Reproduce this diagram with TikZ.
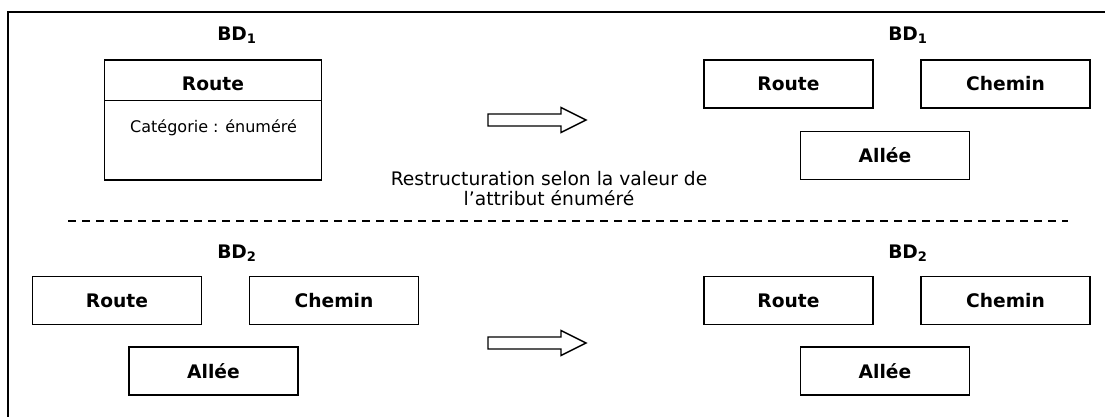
\documentclass[tikz,border=0pt]{standalone}
\usepackage{fontspec}
\setmainfont{DejaVu Sans}
\usetikzlibrary{positioning}

\begin{document}
\begin{tikzpicture}[x=0.75pt,y=-0.75pt,font=\fontsize{14}{15}\selectfont]
  \tikzstyle{boite}=[draw,line width=1.1pt,outer sep=0pt,inner sep=0pt,minimum width=126.75pt,minimum height=36pt,font=\fontsize{14}{15}\selectfont\bfseries]
  \tikzstyle{titre}=[font=\fontsize{14}{15}\selectfont\bfseries]
  \tikzstyle{fleche}=[draw,line width=1.1pt,line join=miter]

  \useasboundingbox (0,0) rectangle (1105,417);
  \draw[line width=1pt] (8,417) -- (8,12) -- (1105,12);

  % BD1 avant
  \node[titre] (bd1a) at (237,35) {BD\textsubscript{1}};
  \node[boite,minimum width=162.75pt,minimum height=30.5pt,text height=15.8pt,text depth=0pt] (cls) at (213,80.3) {Route};
  \node[boite,minimum width=162.75pt,minimum height=59.5pt,below=0pt of cls] (attr) {};
  \node[anchor=base west,font=\fontsize{12}{14}\selectfont] (cat) at (125.5,132.5) {Catégorie : énuméré};

  % BD1 apres
  \node[titre] (bd1b) at (908,35) {BD\textsubscript{1}};
  \node[boite] (route1) at (788.5,84) {Route};
  \node[boite,right=36pt of route1] (chemin1) {Chemin};
  \node[boite,below=17.5pt of route1.south east,xshift=9pt] (allee1) {Allée};

  \coordinate (f1) at (488,120);
  \draw[fleche] (f1) ++(0,-6) -- ++(73,0) -- ++(0,-6.5) -- ++(25,12.5) -- ++(-25,12.5) -- ++(0,-6.5) -- ++(-73,0) -- cycle;

  \node[align=center] (texte) at (549,189) {Restructuration selon la valeur de\\l’attribut énuméré};

  \coordinate (sepg) at (68,221);
  \coordinate (sepd) at (1068,221);
  \draw[dash pattern=on 6pt off 4.5pt,line width=0.9pt] (sepg) -- (sepd);

  % BD2 avant
  \node[titre] (bd2a) at (237,253) {BD\textsubscript{2}};
  \node[boite] (route2) at (117,300.5) {Route};
  \node[boite,right=36pt of route2] (chemin2) {Chemin};
  \node[boite,below=17pt of route2.south east,xshift=9pt] (allee2) {Allée};

  % BD2 apres
  \node[titre] (bd2b) at (908,253) {BD\textsubscript{2}};
  \node[boite] (route3) at (788.5,300.5) {Route};
  \node[boite,right=36pt of route3] (chemin3) {Chemin};
  \node[boite,below=17pt of route3.south east,xshift=9pt] (allee3) {Allée};

  \coordinate (f2) at (488,343);
  \draw[fleche] (f2) ++(0,-6) -- ++(73,0) -- ++(0,-6.5) -- ++(25,12.5) -- ++(-25,12.5) -- ++(0,-6.5) -- ++(-73,0) -- cycle;
\end{tikzpicture}
\end{document}
